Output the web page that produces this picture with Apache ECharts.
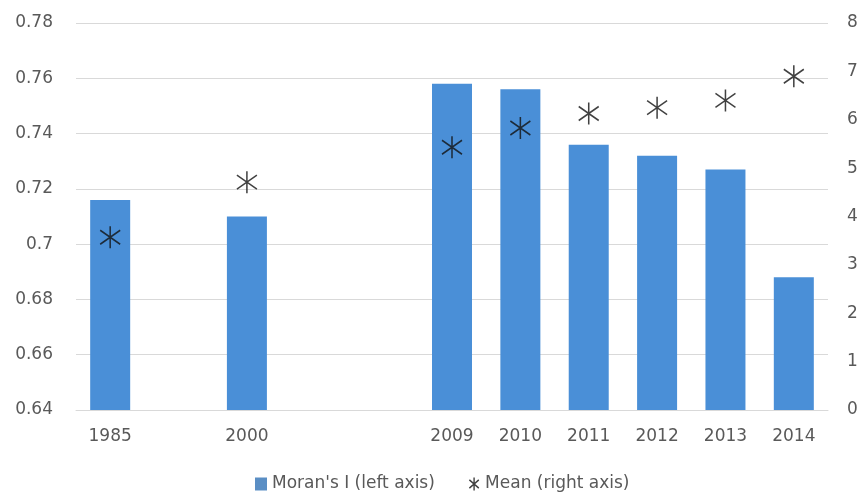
<!DOCTYPE html>
<html>
<head>
<meta charset="utf-8">
<script src="https://cdn.jsdelivr.net/npm/echarts@6/dist/echarts.min.js"></script>
<style>
  html, body { margin: 0; padding: 0; background: #ffffff; }
  #chart { width: 864px; height: 502px; }
</style>
</head>
<body>
<div id="chart"></div>
<script>
// Years on the category axis; blank slots keep the gaps between 1985, 2000 and 2009
const years = ['1985', '', '2000', '', '', '2009', '2010', '2011', '2012', '2013', '2014'];
// Moran's I (left axis)
const moranI = [0.716, null, 0.710, null, null, 0.758, 0.756, 0.736, 0.732, 0.727, 0.688];
// Mean (right axis)
const meanVals = [3.57, null, 4.71, null, null, 5.43, 5.83, 6.13, 6.25, 6.40, 6.90];
// Axis ticks
const leftTicks = { min: 0.64, max: 0.78, step: 0.02 };
const rightTicks = { min: 0, max: 8, step: 1 };

const starPath = 'path://M10,0 L10,22 M2,4 L18,18 M2,18 L18,4';
const textColor = '#595959';
const font = 'DejaVu Sans';
const fontSize = 17;

const chart = echarts.init(document.getElementById('chart'), null, { renderer: 'canvas' });
chart.setOption({
  animation: false,
  backgroundColor: '#ffffff',
  textStyle: { fontFamily: font },
  grid: { left: 76, right: 36, top: 23, bottom: 92, containLabel: false },
  legend: {
    bottom: 4,
    left: 250,
    itemGap: 32,
    itemWidth: 12,
    itemHeight: 13,
    textStyle: { color: textColor, fontSize: fontSize, fontFamily: font },
    data: [
      { name: "Moran's I (left axis)", icon: 'rect', itemStyle: { color: '#5a8ec4' } },
      { name: 'Mean (right axis)', icon: starPath, itemStyle: { color: 'none', borderColor: '#111', borderWidth: 1.4 } }
    ]
  },
  xAxis: {
    type: 'category',
    data: years,
    axisLine: { show: true, lineStyle: { color: '#d9d9d9' } },
    axisTick: { show: false },
    axisLabel: { color: textColor, fontSize: fontSize, margin: 18, interval: 0 },
    splitLine: { show: false }
  },
  yAxis: [
    {
      type: 'value',
      min: leftTicks.min,
      max: leftTicks.max,
      interval: leftTicks.step,
      axisLine: { show: false },
      axisTick: { show: false },
      axisLabel: { color: textColor, fontSize: fontSize, margin: 23 },
      splitLine: { lineStyle: { color: '#d9d9d9' } }
    },
    {
      type: 'value',
      min: rightTicks.min,
      max: rightTicks.max,
      interval: rightTicks.step,
      position: 'right',
      axisLine: { show: false },
      axisTick: { show: false },
      axisLabel: { color: textColor, fontSize: fontSize, margin: 19 },
      splitLine: { show: false }
    }
  ],
  series: [
    {
      name: "Moran's I (left axis)",
      type: 'bar',
      yAxisIndex: 0,
      data: moranI,
      barWidth: 40,
      itemStyle: { color: '#4a8fd7' }
    },
    {
      name: 'Mean (right axis)',
      type: 'scatter',
      yAxisIndex: 1,
      data: meanVals,
      symbol: starPath,
      symbolSize: [20, 22],
      itemStyle: { color: 'none', borderColor: '#111111', borderWidth: 1.6 },
      z: 5
    }
  ]
});
</script>
</body>
</html>
